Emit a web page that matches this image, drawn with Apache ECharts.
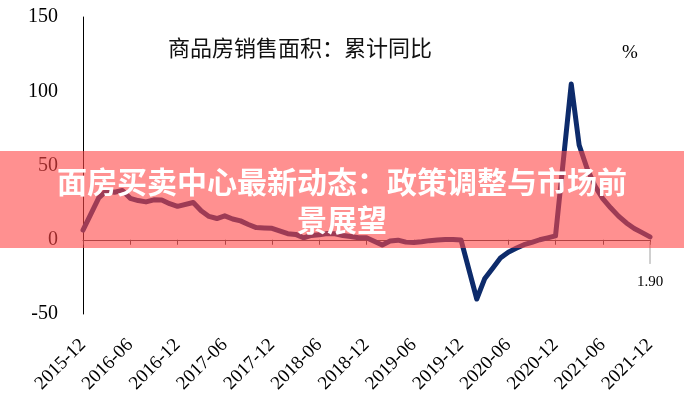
<!DOCTYPE html>
<html>
<head>
<meta charset="utf-8">
<script src="https://cdn.jsdelivr.net/npm/echarts@6/dist/echarts.min.js"></script>
<style>html,body{margin:0;padding:0;background:#fff;}#c{width:684px;height:400px;}</style>
</head>
<body>
<div id="c"></div>
<script>
// Categories: monthly from 2015-12 to 2021-12
const months = [];
for (let y = 2015, m = 12; y < 2022; ) {
  months.push(y + '-' + String(m).padStart(2, '0'));
  m++; if (m > 12) { m = 1; y++; }
}
// Cumulative YoY growth (%) of commercial housing sales area; January not published (null)
const v2015 = [6.5];
const v2016 = [null, 28.2, 33.1, 32.0, 33.2, 27.9, 26.4, 25.5, 26.9, 26.8, 24.3, 22.5];
const v2017 = [null, 25.1, 19.5, 15.7, 14.3, 16.1, 14.0, 12.7, 10.3, 8.2, 7.9, 7.7];
const v2018 = [null, 4.1, 3.6, 1.3, 2.9, 3.3, 4.2, 4.0, 2.9, 2.2, 1.4, 1.3];
const v2019 = [null, -3.6, -0.9, -0.3, -1.6, -1.8, -1.3, -0.6, -0.1, 0.1, 0.2, -0.1];
const v2020 = [null, -39.9, -26.3, -19.3, -12.3, -8.4, -5.8, -3.3, -1.8, 0.0, 1.3, 2.6];
const v2021 = [null, 104.9, 63.8, 48.1, 36.3, 27.7, 21.5, 15.9, 11.3, 7.6, 4.8, 1.9];
const values = [].concat(v2015, v2016, v2017, v2018, v2019, v2020, v2021);
const yTicks = { min: -50, max: 150, interval: 50 };
const titleText = '商品房销售面积：累计同比';
const unitText = '%';
const bannerText = '面房买卖中心最新动态：政策调整与市场前\n景展望';

const chart = echarts.init(document.getElementById('c'), null, { renderer: 'canvas' });
const serif = '"Liberation Serif", "DejaVu Serif", serif';
const option = {
  animation: false,
  backgroundColor: '#fff',
  title: {
    text: titleText, left: 163, top: 32,
    textStyle: { fontFamily: '"Noto Sans CJK SC"', fontSize: 22, fontWeight: 'normal', color: '#111' }
  },
  grid: { left: 83, right: 34, top: 17, bottom: 86 },
  xAxis: [
    {
      type: 'category', data: months, boundaryGap: false,
      axisLine: { onZero: true, lineStyle: { color: '#404040', width: 1 } },
      axisTick: { show: true, length: 5, interval: function (i) { return i % 6 === 0; }, lineStyle: { color: '#404040' } },
      axisLabel: { show: false }, splitLine: { show: false }
    },
    {
      type: 'category', data: months, boundaryGap: false, position: 'bottom',
      axisLine: { show: false, onZero: false }, axisTick: { show: false },
      axisLabel: { show: true, interval: 5, rotate: 45, margin: 28, fontFamily: serif, fontSize: 19, color: '#000' },
      splitLine: { show: false }
    }
  ],
  yAxis: {
    type: 'value', min: yTicks.min, max: yTicks.max, interval: yTicks.interval,
    axisLine: { show: true, lineStyle: { color: '#000', width: 1 } },
    axisTick: { show: false }, splitLine: { show: false },
    axisLabel: { margin: 25, fontFamily: serif, fontSize: 20, color: '#000' }
  },
  series: [{
    type: 'line', xAxisIndex: 0, data: values, connectNulls: true,
    symbol: 'none', lineStyle: { color: '#0d2b6b', width: 5, join: 'round', cap: 'round' }, z: 3
  }]
};
chart.setOption(option);

const lastIdx = values.length - 1;
const lastVal = values[lastIdx];
const p = chart.convertToPixel({ seriesIndex: 0 }, [lastIdx, lastVal]);
chart.setOption({
  graphic: [
    { type: 'line', z: 50, shape: { x1: p[0], y1: p[1] + 5, x2: p[0], y2: p[1] + 27 }, style: { stroke: '#a0a0a0', lineWidth: 1 } },
    { type: 'text', z: 50, x: p[0], y: p[1] + 45, style: { text: lastVal.toFixed(2), font: '15px ' + serif, fill: '#000', textAlign: 'center', textVerticalAlign: 'middle' } },
    { type: 'text', z: 50, x: 630, y: 53, style: { text: unitText, font: '19px ' + serif, fill: '#000', textAlign: 'center', textVerticalAlign: 'middle' } },
    { type: 'rect', z: 100, shape: { x: 0, y: 151, width: 684, height: 97 }, style: { fill: 'rgba(255,70,70,0.6)' } },
    { type: 'text', z: 101, x: 342, y: 201, style: { text: bannerText, font: 'bold 30px "Noto Sans CJK SC"', fill: '#fff', textAlign: 'center', textVerticalAlign: 'middle', lineHeight: 38 } }
  ]
});
</script>
</body>
</html>
